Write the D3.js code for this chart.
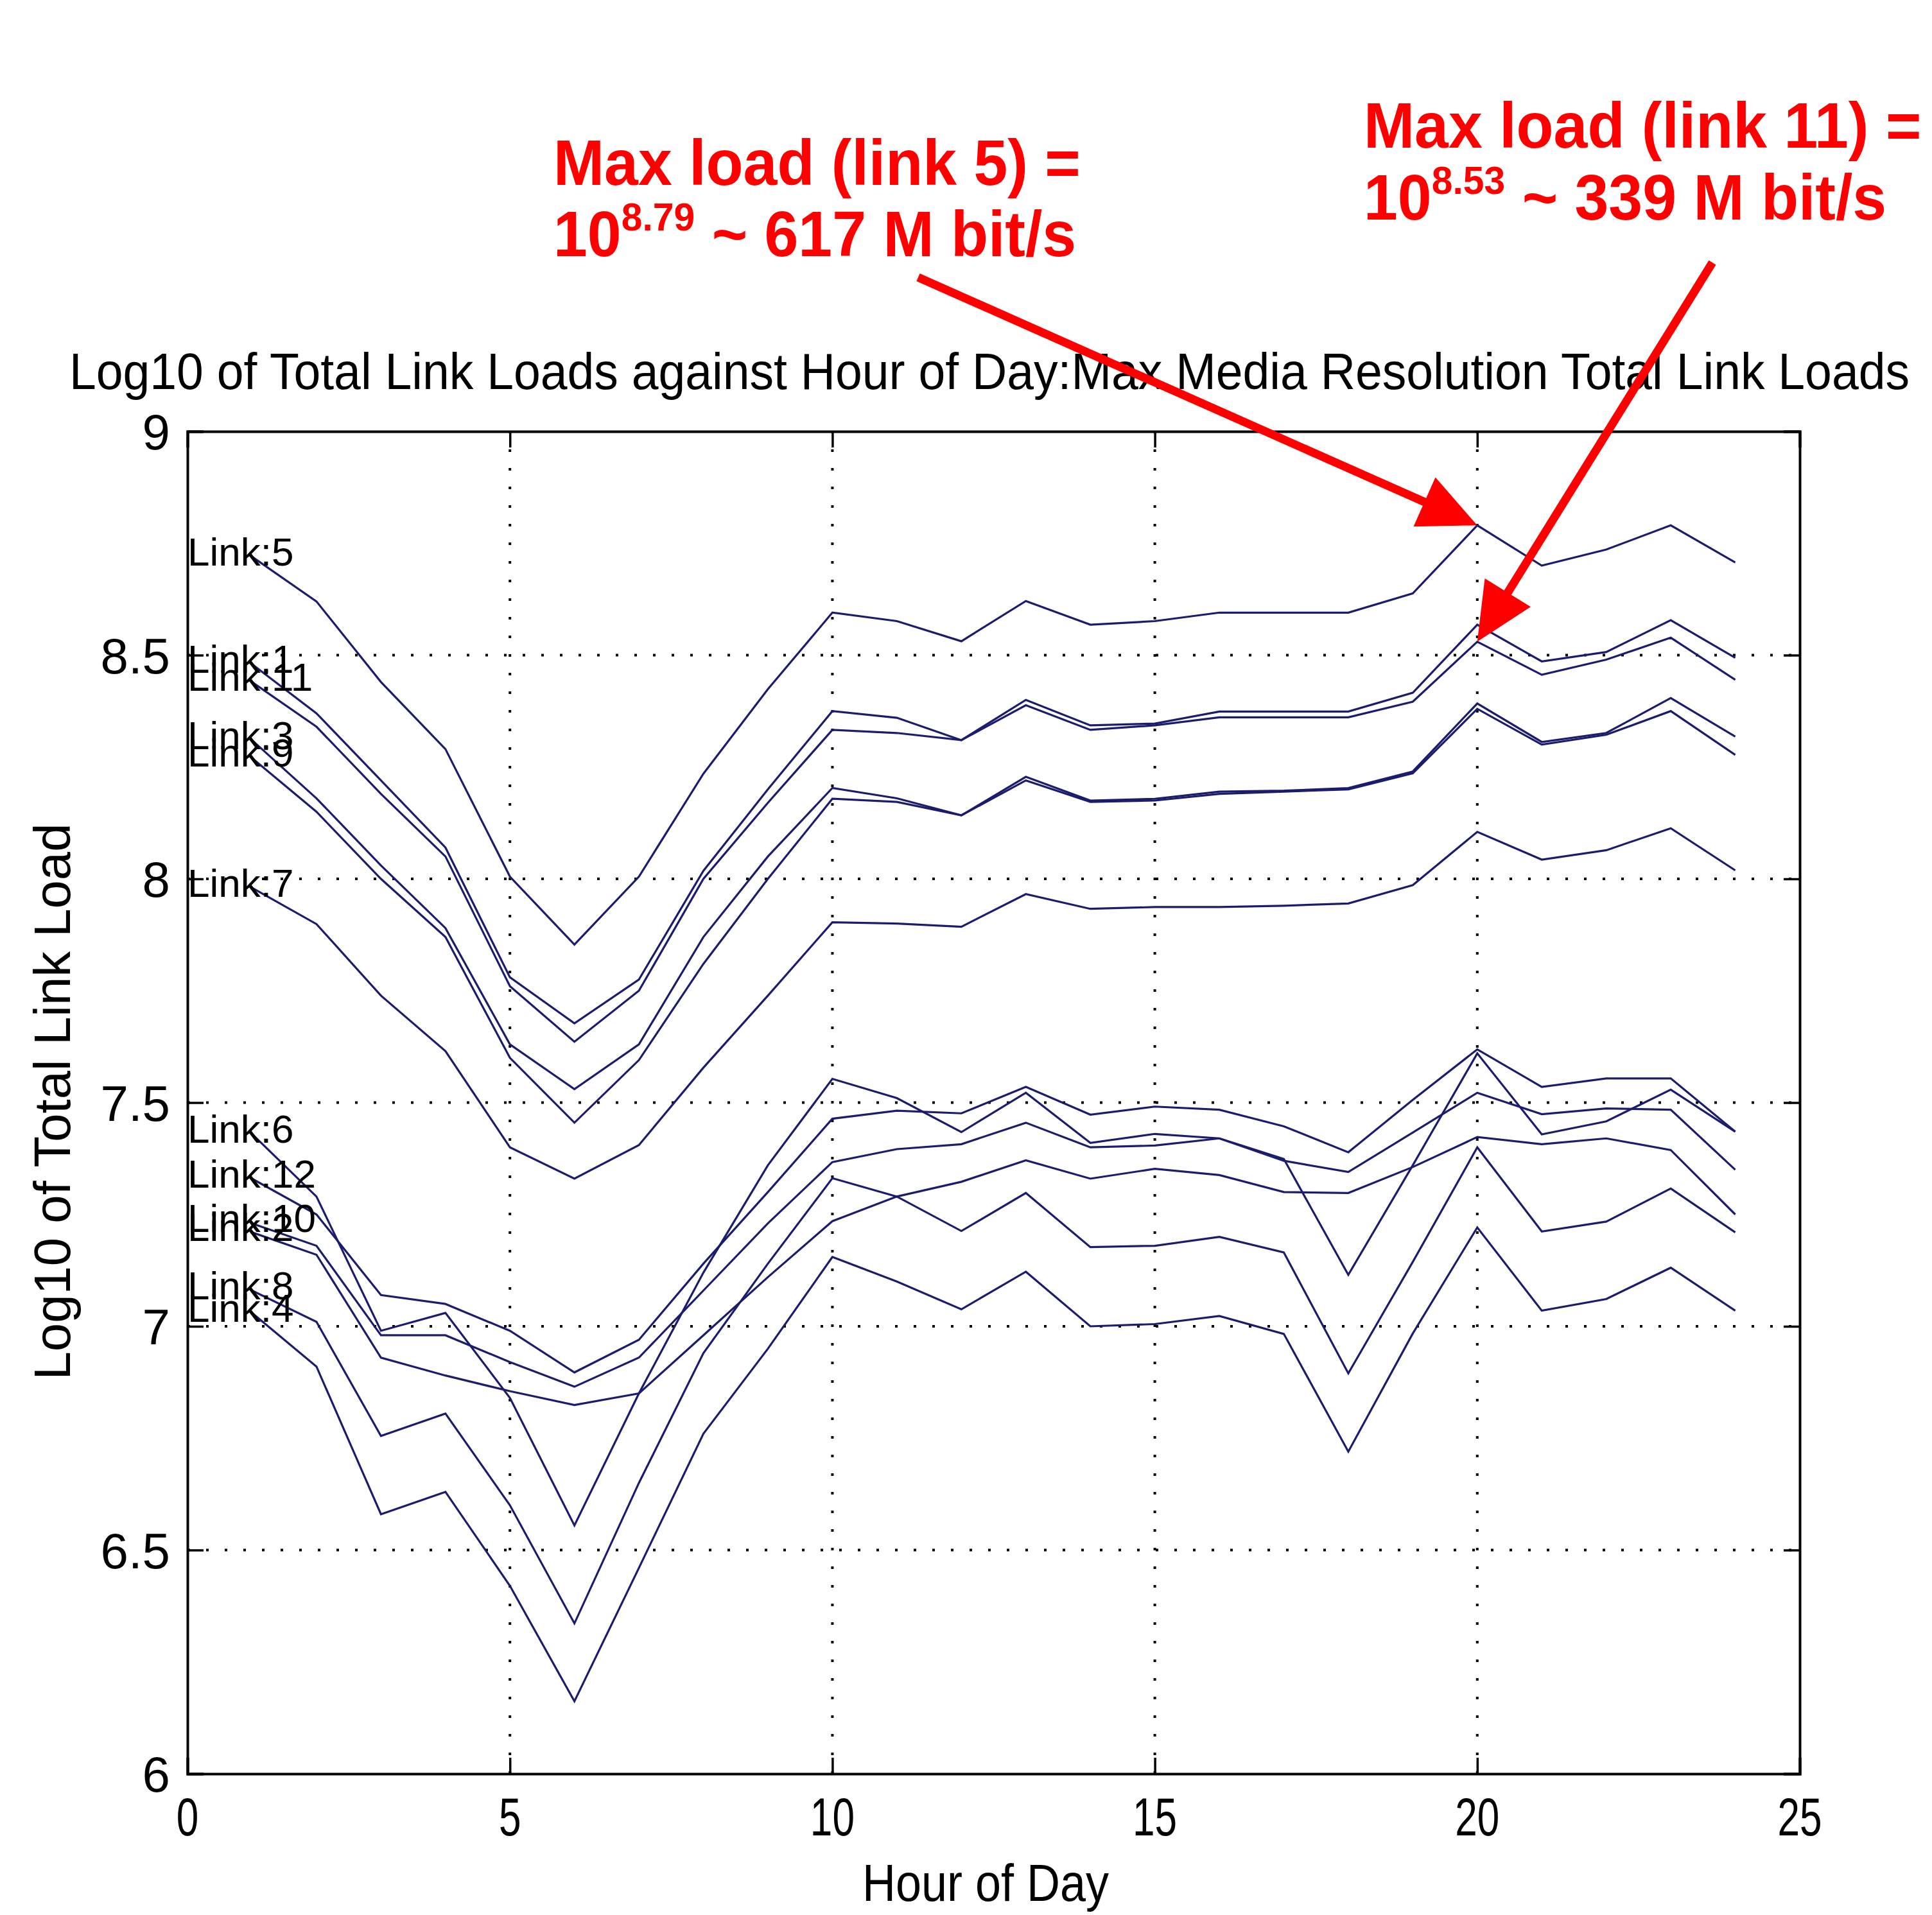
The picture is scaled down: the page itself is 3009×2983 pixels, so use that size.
<!DOCTYPE html>
<html>
<head>
<meta charset="utf-8">
<script src="https://cdn.jsdelivr.net/npm/d3@7"></script>
<style>
  html, body { margin: 0; padding: 0; background: #ffffff; }
  svg { display: block; }
  text { font-family: "Liberation Sans", Arial, Helvetica, sans-serif; }
</style>
</head>
<body>
<svg id="chart" width="3009" height="2983"></svg>
<script>
// Hour of day for each sample
const hours = [1, 2, 3, 4, 5, 6, 7, 8, 9, 10, 11, 12, 13, 14, 15, 16, 17, 18, 19, 20, 21, 22, 23, 24];

// log10 of total load per link, one value per hour
const link5  = [8.72, 8.62, 8.44, 8.29, 8.005, 7.853, 8.005, 8.235, 8.424, 8.595, 8.576, 8.531, 8.621, 8.568, 8.576, 8.595, 8.595, 8.595, 8.638, 8.79, 8.70, 8.736, 8.79, 8.707];
const link1  = [8.48, 8.37, 8.22, 8.07, 7.78, 7.677, 7.775, 8.018, 8.20, 8.375, 8.36, 8.31, 8.40, 8.343, 8.347, 8.374, 8.374, 8.374, 8.416, 8.568, 8.486, 8.507, 8.578, 8.494];
const link11 = [8.44, 8.34, 8.19, 8.05, 7.76, 7.636, 7.75, 8.0, 8.17, 8.333, 8.326, 8.31, 8.388, 8.333, 8.343, 8.361, 8.361, 8.361, 8.396, 8.53, 8.456, 8.49, 8.539, 8.445];
const link3  = [8.31, 8.18, 8.03, 7.89, 7.63, 7.53, 7.63, 7.87, 8.05, 8.203, 8.18, 8.142, 8.228, 8.175, 8.179, 8.195, 8.197, 8.203, 8.24, 8.392, 8.306, 8.326, 8.404, 8.318];
const link9  = [8.27, 8.15, 8.00, 7.87, 7.60, 7.455, 7.595, 7.81, 8.00, 8.179, 8.172, 8.142, 8.22, 8.172, 8.175, 8.19, 8.195, 8.2, 8.236, 8.38, 8.30, 8.322, 8.375, 8.277];
const link7  = [7.98, 7.899, 7.739, 7.615, 7.40, 7.33, 7.405, 7.578, 7.739, 7.903, 7.90, 7.893, 7.966, 7.933, 7.937, 7.937, 7.94, 7.945, 7.986, 8.105, 8.043, 8.064, 8.113, 8.019];
const link6  = [7.43, 7.29, 6.99, 7.03, 6.84, 6.555, 6.85, 7.12, 7.36, 7.553, 7.51, 7.434, 7.522, 7.41, 7.43, 7.42, 7.374, 7.115, 7.36, 7.61, 7.429, 7.458, 7.529, 7.435];
const link12 = [7.33, 7.25, 7.07, 7.05, 6.99, 6.897, 6.97, 7.14, 7.30, 7.464, 7.482, 7.476, 7.535, 7.473, 7.491, 7.484, 7.447, 7.389, 7.506, 7.619, 7.535, 7.554, 7.554, 7.435];
const link10 = [7.23, 7.18, 6.98, 6.98, 6.92, 6.865, 6.93, 7.08, 7.23, 7.367, 7.396, 7.407, 7.455, 7.40, 7.404, 7.42, 7.37, 7.345, 7.433, 7.522, 7.474, 7.487, 7.484, 7.35];
const link2  = [7.21, 7.16, 6.93, 6.89, 6.855, 6.824, 6.85, 6.98, 7.11, 7.235, 7.29, 7.323, 7.371, 7.33, 7.352, 7.338, 7.30, 7.298, 7.356, 7.423, 7.407, 7.42, 7.394, 7.25];
const link8  = [7.08, 7.01, 6.755, 6.805, 6.60, 6.336, 6.65, 6.94, 7.14, 7.331, 7.29, 7.213, 7.298, 7.177, 7.18, 7.20, 7.165, 6.895, 7.144, 7.40, 7.212, 7.234, 7.308, 7.21];
const link4  = [7.03, 6.91, 6.58, 6.63, 6.42, 6.162, 6.46, 6.76, 6.95, 7.155, 7.10, 7.038, 7.122, 7.0, 7.005, 7.023, 6.983, 6.72, 6.984, 7.221, 7.035, 7.061, 7.131, 7.035];

// Link ids, in plotting order, and their series
const linkIds = [1, 2, 3, 4, 5, 6, 7, 8, 9, 10, 11, 12];
const linkValues = [link1, link2, link3, link4, link5, link6, link7, link8, link9, link10, link11, link12];

// Axis ticks
const xTicks = [0, 5, 10, 15, 20, 25];
const yTicks = [6, 6.5, 7, 7.5, 8, 8.5, 9];
const yTickLabels = ["6", "6.5", "7", "7.5", "8", "8.5", "9"];

// Texts
const titleText = "Log10 of Total Link Loads against Hour of Day:Max Media Resolution Total Link Loads";
const xLabelText = "Hour of Day";
const yLabelText = "Log10 of Total Link Load";

// Peak call-outs: which link, at which hour, and its value
const callouts = [
  { link: 5,  hour: 20, value: 8.79, line1: "Max load (link 5) =",  exp: "8.79", rest: " ~ 617 M bit/s" },
  { link: 11, hour: 20, value: 8.53, line1: "Max load (link 11) =", exp: "8.53", rest: " ~ 339 M bit/s" }
];

const svg = d3.select("#chart");
const W = 3009, H = 2983;
svg.append("rect").attr("width", W).attr("height", H).attr("fill", "#ffffff");

const plot = { left: 292, right: 2803, top: 672, bottom: 2763 };
const x = d3.scaleLinear().domain([0, 25]).range([plot.left, plot.right]);
const y = d3.scaleLinear().domain([6, 9]).range([plot.bottom, plot.top]);

// Dotted grid
const grid = svg.append("g")
  .attr("stroke", "#000")
  .attr("stroke-width", 4)
  .attr("stroke-dasharray", "4 25");
xTicks.filter(t => t > 0 && t < 25).forEach(t => {
  grid.append("line").attr("x1", x(t)).attr("x2", x(t)).attr("y1", plot.bottom).attr("y2", plot.top);
});
yTicks.filter(t => t > 6 && t < 9).forEach(t => {
  grid.append("line").attr("y1", y(t)).attr("y2", y(t)).attr("x1", plot.left).attr("x2", plot.right);
});

// Series lines
const line = d3.line().x((d, i) => x(hours[i])).y(d => y(d));
const lines = svg.append("g")
  .attr("fill", "none")
  .attr("stroke", "#1c1c6e")
  .attr("stroke-width", 3.2)
  .attr("stroke-linejoin", "miter");
linkValues.forEach(vals => {
  lines.append("path").attr("d", line(vals));
});

// Axes box with inward ticks on all four sides
const tickLen = 25;
const axBottom = d3.axisBottom(x).tickValues(xTicks).tickSize(-tickLen).tickFormat("");
const axTop = d3.axisTop(x).tickValues(xTicks).tickSize(-tickLen).tickFormat("");
const axLeft = d3.axisLeft(y).tickValues(yTicks).tickSize(-tickLen).tickFormat("");
const axRight = d3.axisRight(y).tickValues(yTicks).tickSize(-tickLen).tickFormat("");
[
  [axBottom, `translate(0,${plot.bottom})`],
  [axTop, `translate(0,${plot.top})`],
  [axLeft, `translate(${plot.left},0)`],
  [axRight, `translate(${plot.right},0)`]
].forEach(([ax, tr]) => {
  const g = svg.append("g").attr("transform", tr).call(ax);
  g.select(".domain").attr("stroke", "#000").attr("stroke-width", 4);
  g.selectAll(".tick line").attr("stroke", "#000").attr("stroke-width", 3.5);
});

// X tick labels (narrow)
xTicks.forEach(t => {
  svg.append("text")
    .attr("transform", `translate(${x(t)},2859) scale(0.74,1)`)
    .attr("text-anchor", "middle")
    .attr("font-size", 84)
    .attr("fill", "#000")
    .text(String(t));
});

// Y tick labels
yTicks.forEach((t, i) => {
  svg.append("text")
    .attr("x", 265)
    .attr("y", y(t))
    .attr("dy", "0.36em")
    .attr("text-anchor", "end")
    .attr("font-size", 78)
    .attr("fill", "#000")
    .text(yTickLabels[i]);
});

// Title
svg.append("text")
  .attr("x", 108).attr("y", 606)
  .attr("font-size", 80)
  .attr("textLength", 2866)
  .attr("lengthAdjust", "spacingAndGlyphs")
  .attr("fill", "#000")
  .text(titleText);

// Axis labels
svg.append("text")
  .attr("x", 1343).attr("y", 2961)
  .attr("font-size", 81)
  .attr("textLength", 384)
  .attr("lengthAdjust", "spacingAndGlyphs")
  .attr("fill", "#000")
  .text(xLabelText);

svg.append("text")
  .attr("transform", `translate(109,${1716 + 867 / 2}) rotate(-90)`)
  .attr("font-size", 80)
  .attr("textLength", 867)
  .attr("lengthAdjust", "spacingAndGlyphs")
  .attr("fill", "#000")
  .text(yLabelText);

// Link labels at the left edge, level with each line's first value
linkIds.forEach((id, i) => {
  svg.append("text")
    .attr("x", x(0))
    .attr("y", y(linkValues[i][0]))
    .attr("dy", "0.22em")
    .attr("font-size", 62)
    .attr("fill", "#000")
    .text("Link:" + id);
});

// Red call-outs with arrows to the peak values
const red = "#ff0000";
const calloutBoxes = [
  { x: 862, y1: 288, y2: 399, tail: [1430, 432] },
  { x: 2124, y1: 230, y2: 342, tail: [2667, 409] }
];
callouts.forEach((c, i) => {
  const b = calloutBoxes[i];
  const g = svg.append("g")
    .attr("transform", `translate(${b.x},0) scale(0.95,1)`)
    .attr("fill", red)
    .attr("font-weight", "bold")
    .attr("font-size", 100);
  g.append("text").attr("x", 0).attr("y", b.y1).text(c.line1);
  const t2 = g.append("text").attr("x", 0).attr("y", b.y2);
  t2.append("tspan").text("10");
  t2.append("tspan").attr("font-size", 62).attr("dy", -40).text(c.exp);
  t2.append("tspan").attr("dy", 40).text(c.rest);

  // arrow from the text to the data point
  const tip = [x(c.hour), y(c.value)];
  const dx = tip[0] - b.tail[0], dy = tip[1] - b.tail[1];
  const len = Math.hypot(dx, dy);
  const ux = dx / len, uy = dy / len;
  const headLen = 90, headHalf = 42;
  const base = [tip[0] - ux * headLen, tip[1] - uy * headLen];
  svg.append("line")
    .attr("x1", b.tail[0]).attr("y1", b.tail[1])
    .attr("x2", base[0] + ux * 4).attr("y2", base[1] + uy * 4)
    .attr("stroke", red).attr("stroke-width", 13);
  svg.append("polygon")
    .attr("points", [
      tip,
      [base[0] - uy * headHalf, base[1] + ux * headHalf],
      [base[0] + uy * headHalf, base[1] - ux * headHalf]
    ].map(p => p.join(",")).join(" "))
    .attr("fill", red);
});
</script>
</body>
</html>
